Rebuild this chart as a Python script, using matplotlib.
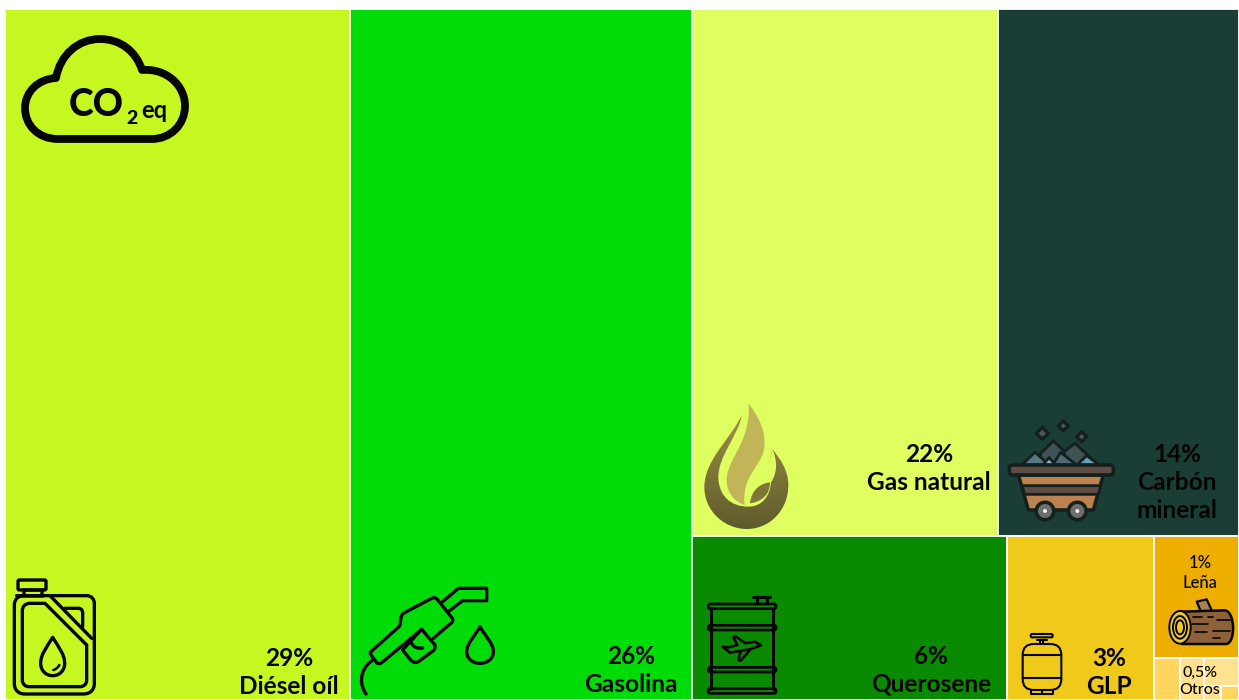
# Emisiones CO2eq por combustible - treemap with hand drawn icons
import re
import numpy as np
import matplotlib
matplotlib.use("Agg")
import matplotlib.pyplot as plt
from matplotlib.path import Path
from matplotlib.patches import PathPatch, Rectangle, Circle, Ellipse, FancyBboxPatch

plt.rcParams["font.family"] = ["Lato", "DejaVu Sans"]

# %% data
categories = ["Diésel oíl", "Gasolina", "Gas natural", "Carbón\nmineral", "Querosene", "GLP", "Leña", "Otros"]
percent_labels = ["29%", "26%", "22%", "14%", "6%", "3%", "1%", "0,5%"]
# share of the drawn area per tile
area_share = [27.96, 27.71, 18.88, 14.93, 6.03, 2.83, 1.21]
# "Otros" is split in small tiles
otros_share = [0.127, 0.117, 0.114, 0.029, 0.029]

tile_colors = ["#C6F721", "#00DC07", "#DEFF5F", "#1A3D35", "#0A8A00", "#F0CA1A", "#EDAE00"]
otros_colors = ["#FFD55F", "#FFE08C", "#FFE28F", "#FFE08C", "#FFD55F"]

INK = "#050505"

# slicing order of the treemap, h = side by side, v = stacked
tree = ("h", [("leaf", 0), ("leaf", 1),
              ("v", [("h", [("leaf", 2), ("leaf", 3)]),
                     ("h", [("leaf", 4), ("leaf", 5),
                            ("v", [("leaf", 6),
                                   ("h", [("other", 0), ("other", 1),
                                          ("v", [("other", 2),
                                                 ("h", [("other", 3), ("other", 4)])])])])])])])


def node_value(node):
    kind, content = node
    if kind == "leaf":
        return area_share[content]
    if kind == "other":
        return otros_share[content]
    return sum(node_value(c) for c in content)


def draw_tree(ax, node, x, y, w, h):
    kind, content = node
    if kind in ("leaf", "other"):
        color = tile_colors[content] if kind == "leaf" else otros_colors[content]
        ax.add_patch(Rectangle((x, y), w, h, facecolor=color, edgecolor="white", linewidth=1.3))
        return
    total = node_value(node)
    for child in content:
        frac = node_value(child) / total
        if kind == "h":
            draw_tree(ax, child, x, y, w * frac, h)
            x += w * frac
        else:
            draw_tree(ax, child, x, y, w, h * frac)
            y += h * frac


def svg(d, ox=0, oy=0, s=1 / 3):
    """Small path parser (M L C Q Z), coordinates are zoomed pixels"""
    codes, verts = [], []
    for cmd, args in re.findall(r"([MLCQZ])([^MLCQZ]*)", d):
        nums = [float(v) for v in args.split()]
        pts = [(ox + nums[i] * s, oy + nums[i + 1] * s) for i in range(0, len(nums), 2)]
        if cmd == "M":
            codes.append(Path.MOVETO)
        elif cmd == "L":
            codes += [Path.LINETO] * len(pts)
        elif cmd == "C":
            codes += [Path.CURVE4] * len(pts)
        elif cmd == "Q":
            codes += [Path.CURVE3] * len(pts)
        else:
            codes.append(Path.CLOSEPOLY)
            pts = [(0, 0)]
        verts += pts
    return Path(verts, codes)


def stroke(ic, d, ox, oy, lw=2.4, fc="none", ec=INK, s=1 / 3):
    ic.add_patch(PathPatch(svg(d, ox, oy, s), facecolor=fc, edgecolor=ec, linewidth=lw,
                           capstyle="round", joinstyle="round"))


def rrect(ic, x0, y0, x1, y1, r, lw=2.4, fc="none", ec=INK):
    ic.add_patch(FancyBboxPatch((x0, y0), x1 - x0, y1 - y0, boxstyle=f"round,pad=0,rounding_size={r}",
                                facecolor=fc, edgecolor=ec, linewidth=lw))


def draw_cloud(ic):
    stroke(ic, "M 58 139 C 38 139 25 125 25 108 C 25 92 38 79 56 78 C 60 55 78 39 100 39 "
               "C 120 39 136 51 142 70 C 166 68 185 85 185 106 C 185 125 170 139 152 139 Z",
           0, 0, lw=5.6, s=1)
    ic.text(69, 116, "CO", fontsize=27, fontweight="black", color=INK, va="baseline")
    ic.text(126, 124, "2", fontsize=14, fontweight="black", color=INK, va="baseline")
    ic.text(141, 118, "eq", fontsize=17, fontweight="bold", color=INK, va="baseline")


def draw_can(ic):
    ox, oy = 0, 560
    rrect(ic, 18, 580, 46, 590, 1.5)
    rrect(ic, 24, 590, 42, 596, 0)
    stroke(ic, "M 50 107 L 70 107 L 260 107 C 275 107 283 118 283 130 L 283 370 C 283 390 270 402 250 402 "
               "L 75 402 C 55 402 43 390 43 370 L 43 135 C 43 118 55 107 70 107", ox, oy)
    stroke(ic, "M 135 130 L 90 130 C 75 130 67 140 67 152 L 67 360 C 67 372 75 380 88 380 L 240 380 "
               "C 252 380 260 372 260 360 L 260 255 L 135 130 Z", ox, oy)
    stroke(ic, "M 150 107 L 275 235", ox, oy)
    stroke(ic, "M 195 145 L 235 145 C 245 145 248 152 248 160 L 248 200", ox, oy)
    stroke(ic, "M 158 232 C 140 262 122 282 122 310 C 122 332 138 347 158 347 C 178 347 194 332 194 310 "
               "C 194 282 176 262 158 232 Z", ox, oy)
    stroke(ic, "M 160 330 C 168 328 174 322 178 315", ox, oy, lw=1.8)


def draw_nozzle(ic):
    ox, oy = 0, 560
    stroke(ic, "M 1113 275 L 1197 200 C 1205 190 1198 170 1210 160 L 1295 115 C 1303 110 1310 115 1315 122 "
               "L 1357 175 C 1360 182 1357 188 1350 192 L 1300 235 M 1265 208 L 1145 308 C 1140 312 1135 312 1130 308 "
               "L 1113 285 C 1110 280 1110 278 1113 275", ox, oy)
    stroke(ic, "M 1240 235 L 1265 208 L 1305 255 C 1305 262 1305 268 1300 272 L 1255 305 C 1245 310 1238 306 1232 300 "
               "L 1208 270 L 1240 235", ox, oy)
    stroke(ic, "M 1235 250 C 1240 262 1252 266 1268 264", ox, oy)
    stroke(ic, "M 1328 125 L 1375 85 L 1460 85 L 1460 122 L 1388 122 L 1345 155", ox, oy)
    stroke(ic, "M 1115 303 C 1090 320 1070 360 1098 402", ox, oy)
    stroke(ic, "M 1440 200 C 1425 228 1400 250 1400 275 C 1400 296 1418 310 1440 310 C 1462 310 1480 296 1480 275 "
               "C 1480 250 1455 228 1440 200 Z", ox, oy)


def draw_flame(ic):
    ox, oy = 695, 395
    body = svg("M 140 60 C 110 130 30 190 28 275 C 28 350 90 402 155 402 C 225 402 280 345 280 270 "
               "C 280 225 255 190 232 163 L 200 300 L 100 300 Z", ox, oy)
    patch = PathPatch(body, facecolor="none", edgecolor="none")
    ic.add_patch(patch)
    # vertical gradient of the flame body
    cmap = matplotlib.colors.LinearSegmentedColormap.from_list("flame", ["#9B9146", "#5F5A2C"])
    im = ic.imshow(np.linspace(0, 1, 64).reshape(-1, 1), cmap=cmap, extent=(700, 800, 529, 415),
                   aspect="auto", zorder=2)
    im.set_clip_path(patch)
    ic.add_patch(PathPatch(svg("M 143 58 C 125 130 68 185 70 250 C 72 300 105 335 160 335 C 200 335 225 305 228 262 "
                               "C 250 230 245 190 232 163 C 225 200 215 220 205 240 C 215 150 200 80 160 22 "
                               "C 160 30 150 50 143 58 Z", ox, oy), facecolor=tile_colors[2], edgecolor="none", zorder=3))
    ic.add_patch(PathPatch(svg("M 160 25 C 195 70 212 110 208 155 C 205 195 170 225 155 265 C 148 290 145 315 150 330 "
                               "C 115 320 95 290 95 255 C 95 210 135 165 150 115 C 158 85 165 55 160 25 Z", ox, oy),
                           facecolor="#C2B558", edgecolor="none", zorder=4))
    ic.add_patch(PathPatch(svg("M 225 262 C 200 265 170 280 165 325 C 200 320 225 300 225 262 Z", ox, oy),
                           facecolor="#7E7638", edgecolor="none", zorder=4))


def draw_cart(ic):
    ox, oy = 1000, 415
    dark = "#14201D"
    rocks = [("M 122 115 L 160 78 L 205 120 L 175 150 L 122 150 Z", "#3E5258"),
             ("M 192 110 L 225 85 L 295 150 L 200 150 Z", "#3F5356"),
             ("M 65 150 L 105 112 L 148 150 Z", "#587984"),
             ("M 128 150 L 147 128 L 168 150 Z", "#7FB5C5"),
             ("M 158 150 L 182 112 L 230 150 Z", "#4F6A73"),
             ("M 230 150 L 260 122 L 298 150 Z", "#6AA0B5")]
    for d, col in rocks:
        stroke(ic, d, ox, oy, lw=2.0, fc=col, ec=dark)
    for cx, cy, r in [(127, 55, 18), (190, 33, 15), (245, 65, 15)]:
        stroke(ic, f"M {cx} {cy - r} L {cx + r} {cy} L {cx} {cy + r} L {cx - r} {cy} Z", ox, oy, lw=2.4, fc="#46595F", ec=dark)
    stroke(ic, "M 55 180 L 310 180 L 280 285 L 85 285 Z", ox, oy, lw=2.6, fc="#BC8350", ec=dark)
    stroke(ic, "M 66 212 L 302 212 L 295 238 L 74 238 Z", ox, oy, fc="#5E4E45", ec=dark, lw=2.0)
    rrect(ic, ox + 28 / 3, oy + 150 / 3, ox + 340 / 3, oy + 180 / 3, 3, lw=2.6, fc="#5E4E45", ec=dark)
    for cx in [135, 232]:
        ic.add_patch(Circle((ox + cx / 3, oy + 288 / 3), 10.5, facecolor=dark, edgecolor="none"))
        ic.add_patch(Circle((ox + cx / 3, oy + 288 / 3), 7, facecolor="#6E6E6E", edgecolor="none"))
        ic.add_patch(Circle((ox + cx / 3, oy + 288 / 3), 2, facecolor="#EDEDED", edgecolor="none"))


def draw_barrel(ic):
    ox, oy = 690, 530
    for y in [229, 293, 419, 483]:
        rrect(ic, ox + 55 / 3, oy + (y - 7) / 3, ox + 258 / 3, oy + (y + 7) / 3, 2, lw=2.0)
    stroke(ic, "M 64 236 L 64 476 M 250 236 L 250 476 M 190 202 L 240 202 M 202 205 L 202 220 M 230 205 L 230 220",
           ox, oy, lw=2.2)
    stroke(ic, "M 97 350 L 120 368 L 183 357 L 213 346 L 195 335 L 167 340 L 138 320 L 130 322 L 142 345 "
               "L 115 352 Z M 180 360 L 152 392 L 145 390 L 152 364", ox, oy, lw=1.9)


def draw_cylinder(ic):
    ox, oy = 1000, 530
    lw = 1.5
    rrect(ic, ox + 92 / 3, oy + 312 / 3, ox + 158 / 3, oy + 322 / 3, 1.5, lw=lw)
    stroke(ic, "M 110 329 L 140 329 M 120 329 L 120 342 M 130 329 L 130 342", ox, oy, lw=lw)
    rrect(ic, ox + 68 / 3, oy + 342 / 3, ox + 184 / 3, oy + 480 / 3, 11, lw=lw)
    stroke(ic, "M 68 375 L 184 375 M 68 445 L 184 445", ox, oy, lw=lw)
    stroke(ic, "M 92 480 L 92 493 L 158 493 L 158 480 M 125 480 L 125 493", ox, oy, lw=lw)


def draw_log(ic):
    ox, oy = 1000, 530
    stroke(ic, "M 590 215 L 620 208 L 638 247 L 605 250 Z", ox, oy, lw=1.6, fc="#A7824F")
    stroke(ic, "M 545 245 L 675 241 C 705 245 708 335 680 342 L 545 342 Z", ox, oy, lw=1.8, fc="#8E6239")
    for d in ["M 580 262 L 605 262", "M 625 262 L 640 262", "M 650 270 L 690 270", "M 575 283 L 625 283",
              "M 640 303 L 690 303", "M 585 305 L 620 305", "M 640 325 L 660 325", "M 570 342 L 585 342"]:
        stroke(ic, d, ox, oy, lw=1.2)
    for rx, ry, fc in [(32, 49, "#EFC92E"), (21, 34, "none"), (12, 21, "none")]:
        ic.add_patch(Ellipse((ox + 540 / 3, oy + 292 / 3), 2 * rx / 3, 2 * ry / 3, facecolor=fc, edgecolor=INK, linewidth=1.4))


# %% figure
fig = plt.figure(figsize=(12.39, 7.0), dpi=100, facecolor="white")

ax = fig.add_axes([5 / 1239, 0, 1234 / 1239, 691 / 700])
ax.set_xlim(0, 1)
ax.set_ylim(1, 0)
ax.axis("off")
draw_tree(ax, tree, 0, 0, 1, 1)

# overlay in picture pixels for the icons and labels
ic = fig.add_axes([0, 0, 1, 1])
ic.set_xlim(0, 1239)
ic.set_ylim(700, 0)
ic.axis("off")
ic.patch.set_alpha(0)

draw_cloud(ic)
draw_can(ic)
draw_nozzle(ic)
draw_flame(ic)
draw_cart(ic)
draw_barrel(ic)
draw_cylinder(ic)
draw_log(ic)
ic.set_xlim(0, 1239)
ic.set_ylim(700, 0)

# label anchor (center x, center y of first line), font size, line step, weight
label_pos = [(289, 658, 17.6, 28, "bold"), (631, 656, 17.6, 28, "bold"), (929, 455, 17.6, 28, "bold"),
             (1177, 455, 17.6, 28, "bold"), (931, 656, 17.6, 28, "bold"), (1109, 659, 17.6, 27, "bold"),
             (1200, 563, 12, 20, "medium"), (1200, 673, 11.5, 17, "medium")]
for name, pct, (x, y, size, step, weight) in zip(categories, percent_labels, label_pos):
    lines = [pct] + name.split("\n")
    for i, line in enumerate(lines):
        ic.text(x, y + i * step, line, ha="center", va="center", fontsize=size, fontweight=weight,
                color=INK, zorder=6)

fig.savefig("out.png", dpi=100)
